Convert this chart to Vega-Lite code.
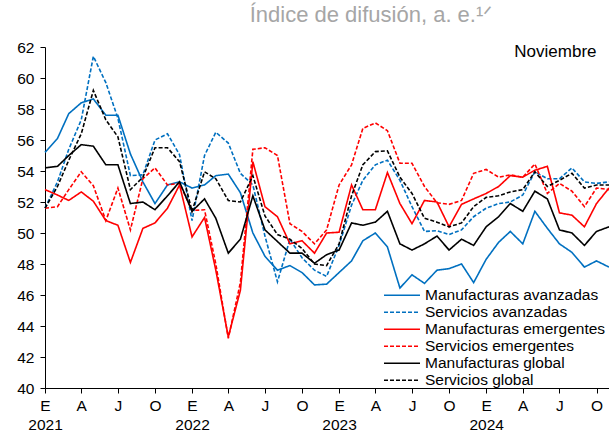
{
  "$schema": "https://vega.github.io/schema/vega-lite/v6.json",
  "width": 564,
  "height": 341,
  "autosize": "none",
  "padding": {"left": 45, "top": 47, "right": 0, "bottom": 49},
  "config": {
    "font": "Liberation Sans",
    "view": {"stroke": null},
    "axisY": {"labelOverlap": false, "labelFlush": false, "labelBound": false, "values": [40, 42, 44, 46, 48, 50, 52, 54, 56, 58, 60, 62], "title": null, "grid": false, "domainColor": "#000000", "tickColor": "#000000", "labelColor": "#000000", "tickSize": 5, "labelFontSize": 15.5, "labelPadding": 6}
  },
  "title": {"text": "Índice de difusión, a. e.¹ᐟ", "fontSize": 22, "fontWeight": "normal", "color": "#a6a6a6", "anchor": "middle", "dx": 44, "offset": 13},
  "datasets": {
    "series": [
      {"m": "2021-01-01", "Manufacturas avanzadas": 55.2, "Servicios avanzadas": 51.6, "Manufacturas emergentes": 52.8, "Servicios emergentes": 51.6, "Manufacturas global": 54.2, "Servicios global": 51.6},
      {"m": "2021-02-01", "Manufacturas avanzadas": 56.1, "Servicios avanzadas": 53.3, "Manufacturas emergentes": 52.45, "Servicios emergentes": 51.7, "Manufacturas global": 54.3, "Servicios global": 53.0},
      {"m": "2021-03-01", "Manufacturas avanzadas": 57.7, "Servicios avanzadas": 55.4, "Manufacturas emergentes": 52.1, "Servicios emergentes": 52.8, "Manufacturas global": 55.0, "Servicios global": 54.7},
      {"m": "2021-04-01", "Manufacturas avanzadas": 58.4, "Servicios avanzadas": 57.3, "Manufacturas emergentes": 52.65, "Servicios emergentes": 53.95, "Manufacturas global": 55.7, "Servicios global": 56.4},
      {"m": "2021-05-01", "Manufacturas avanzadas": 58.65, "Servicios avanzadas": 61.4, "Manufacturas emergentes": 52.05, "Servicios emergentes": 53.05, "Manufacturas global": 55.6, "Servicios global": 59.2},
      {"m": "2021-06-01", "Manufacturas avanzadas": 57.6, "Servicios avanzadas": 59.7, "Manufacturas emergentes": 50.8, "Servicios emergentes": 50.8, "Manufacturas global": 54.4, "Servicios global": 57.3},
      {"m": "2021-07-01", "Manufacturas avanzadas": 57.6, "Servicios avanzadas": 57.4, "Manufacturas emergentes": 50.5, "Servicios emergentes": 52.9, "Manufacturas global": 54.4, "Servicios global": 56.2},
      {"m": "2021-08-01", "Manufacturas avanzadas": 55.1, "Servicios avanzadas": 53.7, "Manufacturas emergentes": 48.1, "Servicios emergentes": 50.2, "Manufacturas global": 51.9, "Servicios global": 52.8},
      {"m": "2021-09-01", "Manufacturas avanzadas": 53.3, "Servicios avanzadas": 53.75, "Manufacturas emergentes": 50.3, "Servicios emergentes": 53.5, "Manufacturas global": 52.0, "Servicios global": 53.6},
      {"m": "2021-10-01", "Manufacturas avanzadas": 51.9, "Servicios avanzadas": 56.0, "Manufacturas emergentes": 50.65, "Servicios emergentes": 54.2, "Manufacturas global": 51.5, "Servicios global": 55.5},
      {"m": "2021-11-01", "Manufacturas avanzadas": 53.1, "Servicios avanzadas": 56.4, "Manufacturas emergentes": 51.6, "Servicios emergentes": 53.1, "Manufacturas global": 52.4, "Servicios global": 55.5},
      {"m": "2021-12-01", "Manufacturas avanzadas": 53.3, "Servicios avanzadas": 55.05, "Manufacturas emergentes": 53.1, "Servicios emergentes": 53.2, "Manufacturas global": 53.3, "Servicios global": 54.6},
      {"m": "2022-01-01", "Manufacturas avanzadas": 52.9, "Servicios avanzadas": 50.8, "Manufacturas emergentes": 49.75, "Servicios emergentes": 51.45, "Manufacturas global": 51.4, "Servicios global": 51.4},
      {"m": "2022-02-01", "Manufacturas avanzadas": 53.1, "Servicios avanzadas": 55.0, "Manufacturas emergentes": 51.0, "Servicios emergentes": 51.5, "Manufacturas global": 52.2, "Servicios global": 53.95},
      {"m": "2022-03-01", "Manufacturas avanzadas": 53.7, "Servicios avanzadas": 56.5, "Manufacturas emergentes": 47.6, "Servicios emergentes": 48.0, "Manufacturas global": 50.95, "Servicios global": 53.5},
      {"m": "2022-04-01", "Manufacturas avanzadas": 53.8, "Servicios avanzadas": 55.8, "Manufacturas emergentes": 43.3, "Servicios emergentes": 43.2, "Manufacturas global": 48.7, "Servicios global": 52.1},
      {"m": "2022-05-01", "Manufacturas avanzadas": 52.6, "Servicios avanzadas": 53.85, "Manufacturas emergentes": 46.3, "Servicios emergentes": 46.8, "Manufacturas global": 49.6, "Servicios global": 52.0},
      {"m": "2022-06-01", "Manufacturas avanzadas": 50.0, "Servicios avanzadas": 53.1, "Manufacturas emergentes": 54.6, "Servicios emergentes": 55.4, "Manufacturas global": 52.4, "Servicios global": 53.7},
      {"m": "2022-07-01", "Manufacturas avanzadas": 48.5, "Servicios avanzadas": 49.8, "Manufacturas emergentes": 51.7, "Servicios emergentes": 55.5, "Manufacturas global": 50.2, "Servicios global": 51.1},
      {"m": "2022-08-01", "Manufacturas avanzadas": 47.6, "Servicios avanzadas": 46.85, "Manufacturas emergentes": 51.05, "Servicios emergentes": 55.0, "Manufacturas global": 49.45, "Servicios global": 49.9},
      {"m": "2022-09-01", "Manufacturas avanzadas": 47.9, "Servicios avanzadas": 49.6, "Manufacturas emergentes": 49.3, "Servicios emergentes": 50.6, "Manufacturas global": 48.7, "Servicios global": 49.6},
      {"m": "2022-10-01", "Manufacturas avanzadas": 47.45, "Servicios avanzadas": 48.4, "Manufacturas emergentes": 49.5, "Servicios emergentes": 50.1, "Manufacturas global": 48.7, "Servicios global": 49.0},
      {"m": "2022-11-01", "Manufacturas avanzadas": 46.65, "Servicios avanzadas": 47.6, "Manufacturas emergentes": 48.7, "Servicios emergentes": 49.3, "Manufacturas global": 48.05, "Servicios global": 48.0},
      {"m": "2022-12-01", "Manufacturas avanzadas": 46.7, "Servicios avanzadas": 47.2, "Manufacturas emergentes": 50.0, "Servicios emergentes": 50.2, "Manufacturas global": 48.6, "Servicios global": 47.9},
      {"m": "2023-01-01", "Manufacturas avanzadas": 47.45, "Servicios avanzadas": 49.2, "Manufacturas emergentes": 50.05, "Servicios emergentes": 53.1, "Manufacturas global": 48.9, "Servicios global": 49.3},
      {"m": "2023-02-01", "Manufacturas avanzadas": 48.2, "Servicios avanzadas": 51.8, "Manufacturas emergentes": 53.1, "Servicios emergentes": 54.4, "Manufacturas global": 50.65, "Servicios global": 52.4},
      {"m": "2023-03-01", "Manufacturas avanzadas": 49.5, "Servicios avanzadas": 53.4, "Manufacturas emergentes": 51.5, "Servicios emergentes": 56.75, "Manufacturas global": 50.5, "Servicios global": 54.4},
      {"m": "2023-04-01", "Manufacturas avanzadas": 50.0, "Servicios avanzadas": 54.4, "Manufacturas emergentes": 51.5, "Servicios emergentes": 57.1, "Manufacturas global": 50.7, "Servicios global": 55.25},
      {"m": "2023-05-01", "Manufacturas avanzadas": 49.1, "Servicios avanzadas": 54.7, "Manufacturas emergentes": 53.9, "Servicios emergentes": 56.6, "Manufacturas global": 51.4, "Servicios global": 55.3},
      {"m": "2023-06-01", "Manufacturas avanzadas": 46.45, "Servicios avanzadas": 53.4, "Manufacturas emergentes": 51.9, "Servicios emergentes": 54.5, "Manufacturas global": 49.3, "Servicios global": 53.6},
      {"m": "2023-07-01", "Manufacturas avanzadas": 47.3, "Servicios avanzadas": 51.7, "Manufacturas emergentes": 50.6, "Servicios emergentes": 54.5, "Manufacturas global": 48.9, "Servicios global": 52.55},
      {"m": "2023-08-01", "Manufacturas avanzadas": 46.75, "Servicios avanzadas": 50.1, "Manufacturas emergentes": 52.1, "Servicios emergentes": 53.0, "Manufacturas global": 49.3, "Servicios global": 50.95},
      {"m": "2023-09-01", "Manufacturas avanzadas": 47.6, "Servicios avanzadas": 50.15, "Manufacturas emergentes": 52.0, "Servicios emergentes": 51.95, "Manufacturas global": 49.8, "Servicios global": 50.7},
      {"m": "2023-10-01", "Manufacturas avanzadas": 47.7, "Servicios avanzadas": 49.9, "Manufacturas emergentes": 50.4, "Servicios emergentes": 51.85, "Manufacturas global": 48.9, "Servicios global": 50.4},
      {"m": "2023-11-01", "Manufacturas avanzadas": 48.0, "Servicios avanzadas": 50.2, "Manufacturas emergentes": 51.85, "Servicios emergentes": 52.1, "Manufacturas global": 49.6, "Servicios global": 50.65},
      {"m": "2023-12-01", "Manufacturas avanzadas": 46.8, "Servicios avanzadas": 51.05, "Manufacturas emergentes": 52.2, "Servicios emergentes": 53.85, "Manufacturas global": 49.2, "Servicios global": 51.7},
      {"m": "2024-01-01", "Manufacturas avanzadas": 48.3, "Servicios avanzadas": 51.6, "Manufacturas emergentes": 52.55, "Servicios emergentes": 54.1, "Manufacturas global": 50.4, "Servicios global": 52.3},
      {"m": "2024-02-01", "Manufacturas avanzadas": 49.4, "Servicios avanzadas": 51.9, "Manufacturas emergentes": 53.0, "Servicios emergentes": 53.6, "Manufacturas global": 51.05, "Servicios global": 52.4},
      {"m": "2024-03-01", "Manufacturas avanzadas": 50.1, "Servicios avanzadas": 52.0, "Manufacturas emergentes": 53.7, "Servicios emergentes": 53.75, "Manufacturas global": 51.9, "Servicios global": 52.65},
      {"m": "2024-04-01", "Manufacturas avanzadas": 49.3, "Servicios avanzadas": 52.45, "Manufacturas emergentes": 53.6, "Servicios emergentes": 53.6, "Manufacturas global": 51.4, "Servicios global": 52.8},
      {"m": "2024-05-01", "Manufacturas avanzadas": 51.4, "Servicios avanzadas": 53.95, "Manufacturas emergentes": 54.05, "Servicios emergentes": 54.45, "Manufacturas global": 52.7, "Servicios global": 53.95},
      {"m": "2024-06-01", "Manufacturas avanzadas": 50.3, "Servicios avanzadas": 53.5, "Manufacturas emergentes": 54.3, "Servicios emergentes": 52.55, "Manufacturas global": 52.2, "Servicios global": 53.0},
      {"m": "2024-07-01", "Manufacturas avanzadas": 49.3, "Servicios avanzadas": 53.5, "Manufacturas emergentes": 51.3, "Servicios emergentes": 53.2, "Manufacturas global": 50.2, "Servicios global": 53.4},
      {"m": "2024-08-01", "Manufacturas avanzadas": 48.75, "Servicios avanzadas": 54.2, "Manufacturas emergentes": 51.15, "Servicios emergentes": 52.7, "Manufacturas global": 50.0, "Servicios global": 53.85},
      {"m": "2024-09-01", "Manufacturas avanzadas": 47.8, "Servicios avanzadas": 53.3, "Manufacturas emergentes": 50.4, "Servicios emergentes": 51.7, "Manufacturas global": 49.2, "Servicios global": 52.9},
      {"m": "2024-10-01", "Manufacturas avanzadas": 48.2, "Servicios avanzadas": 53.2, "Manufacturas emergentes": 51.9, "Servicios emergentes": 52.9, "Manufacturas global": 50.1, "Servicios global": 53.1},
      {"m": "2024-11-01", "Manufacturas avanzadas": 47.8, "Servicios avanzadas": 53.3, "Manufacturas emergentes": 52.9, "Servicios emergentes": 52.8, "Manufacturas global": 50.4, "Servicios global": 53.1}
    ]
  },
  "layer": [
    {
      "mark": {"type": "rule", "color": "#808080", "strokeWidth": 1},
      "encoding": {"y": {"datum": 50, "type": "quantitative", "scale": {"domain": [40, 62], "nice": false, "zero": false}, "axis": {"values": [40, 42, 44, 46, 48, 50, 52, 54, 56, 58, 60, 62], "labelOverlap": false, "title": null}}}
    },
    {
      "data": {"name": "series"},
      "transform": [
        {"fold": ["Manufacturas avanzadas", "Servicios avanzadas", "Manufacturas emergentes", "Servicios emergentes", "Manufacturas global", "Servicios global"], "as": ["serie", "valor"]}
      ],
      "mark": {"type": "line", "clip": false},
      "encoding": {
        "x": {
          "field": "m", "type": "temporal",
          "scale": {"type": "utc"},
          "axis": {
            "title": null, "grid": false, "domainColor": "#000000", "tickColor": "#000000", "labelColor": "#000000",
            "tickSize": 5, "labelFontSize": 15.5, "labelPadding": 5, "labelLineHeight": 19,
            "labelOverlap": false, "labelFlush": false, "labelBound": false, "labelBaseline": "top",
            "tickCount": {"interval": "month", "step": 3},
            "labelExpr": "[['E','A','J','O'][floor(utcmonth(datum.value)/3)], utcmonth(datum.value) == 0 ? utcFormat(datum.value, '%Y') : '']"
          }
        },
        "y": {
          "field": "valor", "type": "quantitative",
          "scale": {"domain": [40, 62], "nice": false, "zero": false},
          "axis": {"values": [40, 42, 44, 46, 48, 50, 52, 54, 56, 58, 60, 62], "labelOverlap": false, "title": null}
        },
        "color": {
          "field": "serie", "type": "nominal",
          "scale": {
            "domain": ["Manufacturas avanzadas", "Servicios avanzadas", "Manufacturas emergentes", "Servicios emergentes", "Manufacturas global", "Servicios global"],
            "range": ["#0070c0", "#0070c0", "#ff0000", "#ff0000", "#000000", "#000000"]
          },
          "legend": {
            "title": null, "orient": "none", "legendX": 338, "legendY": 240, "padding": 0,
            "symbolType": "stroke", "symbolSize": 1296, "symbolStrokeWidth": 1.5, "symbolOffset": 0,
            "clipHeight": 16.5, "rowPadding": 0, "labelOffset": 4,
            "labelFontSize": 15.5, "labelColor": "#000000", "labelLimit": 300
          }
        },
        "strokeDash": {
          "field": "serie", "type": "nominal",
          "scale": {
            "domain": ["Manufacturas avanzadas", "Servicios avanzadas", "Manufacturas emergentes", "Servicios emergentes", "Manufacturas global", "Servicios global"],
            "range": [[1, 0], [4, 2], [1, 0], [4, 2], [1, 0], [4, 2]]
          },
          "legend": {
            "title": null, "orient": "none", "legendX": 338, "legendY": 240, "padding": 0,
            "symbolType": "stroke", "symbolSize": 1296, "symbolStrokeWidth": 1.5, "symbolOffset": 0,
            "clipHeight": 16.5, "rowPadding": 0, "labelOffset": 4,
            "labelFontSize": 15.5, "labelColor": "#000000", "labelLimit": 300
          }
        },
        "strokeWidth": {
          "field": "serie", "type": "nominal",
          "scale": {
            "domain": ["Manufacturas avanzadas", "Servicios avanzadas", "Manufacturas emergentes", "Servicios emergentes", "Manufacturas global", "Servicios global"],
            "range": [1.6, 1.6, 1.6, 1.6, 1.1, 1.4]
          },
          "legend": {
            "title": null, "orient": "none", "legendX": 338, "legendY": 240, "padding": 0,
            "symbolType": "stroke", "symbolSize": 1296, "symbolOffset": 0,
            "clipHeight": 16.5, "rowPadding": 0, "labelOffset": 4,
            "labelFontSize": 15.5, "labelColor": "#000000", "labelLimit": 300
          }
        }
      }
    },
    {
      "data": {"values": [{"etiqueta": "Noviembre"}]},
      "mark": {"type": "text", "align": "right", "baseline": "middle", "fontSize": 17, "color": "#000000"},
      "encoding": {
        "x": {"datum": {"year": 2024, "month": 10, "date": 1, "utc": true}, "type": "temporal"},
        "y": {"datum": 61.7, "type": "quantitative", "axis": {"values": [40, 42, 44, 46, 48, 50, 52, 54, 56, 58, 60, 62], "labelOverlap": false, "title": null}},
        "text": {"field": "etiqueta", "type": "nominal"}
      }
    }
  ]
}
